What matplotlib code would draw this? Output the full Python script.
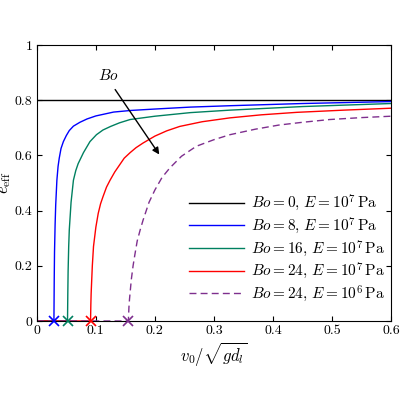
import matplotlib
matplotlib.use("Agg")
import matplotlib.pyplot as plt

plt.rcParams['font.family'] = ['cmr10', 'DejaVu Serif']
plt.rcParams['mathtext.fontset'] = 'cm'
plt.rcParams['axes.formatter.use_mathtext'] = True

bo0_x = [0.0, 0.6]
bo0_y = [0.8, 0.8]
bo8_x = [0.0, 0.029, 0.0295, 0.030, 0.031, 0.032, 0.034, 0.036, 0.038, 0.041, 0.045, 0.05, 0.055, 0.062, 0.073, 0.085, 0.10, 0.13, 0.16, 0.2, 0.26, 0.327, 0.45, 0.6]
bo8_y = [0.0, 0.0, 0.15, 0.25, 0.35, 0.42, 0.51, 0.56, 0.59, 0.625, 0.65, 0.672, 0.69, 0.706, 0.72, 0.732, 0.743, 0.757, 0.763, 0.768, 0.775, 0.78, 0.788, 0.795]
bo16_x = [0.0, 0.052, 0.0525, 0.053, 0.054, 0.055, 0.058, 0.062, 0.066, 0.07, 0.079, 0.09, 0.101, 0.112, 0.125, 0.14, 0.158, 0.2, 0.26, 0.327, 0.45, 0.6]
bo16_y = [0.0, 0.0, 0.1, 0.18, 0.27, 0.33, 0.43, 0.51, 0.545, 0.57, 0.61, 0.65, 0.675, 0.692, 0.705, 0.718, 0.73, 0.742, 0.755, 0.764, 0.777, 0.788]
bo24_x = [0.0, 0.091, 0.0915, 0.092, 0.094, 0.096, 0.1, 0.104, 0.108, 0.112, 0.118, 0.124, 0.132, 0.14, 0.148, 0.158, 0.168, 0.18, 0.2, 0.22, 0.242, 0.28, 0.327, 0.38, 0.44, 0.52, 0.6]
bo24_y = [0.0, 0.0, 0.06, 0.1, 0.2, 0.27, 0.34, 0.39, 0.425, 0.45, 0.485, 0.51, 0.54, 0.565, 0.59, 0.61, 0.628, 0.645, 0.67, 0.689, 0.705, 0.722, 0.736, 0.747, 0.756, 0.764, 0.771]
bo24e6_x = [0.0, 0.155, 0.156, 0.157, 0.16, 0.163, 0.166, 0.17, 0.175, 0.18, 0.19, 0.2, 0.212, 0.225, 0.245, 0.27, 0.3, 0.327, 0.37, 0.41, 0.45, 0.496, 0.55, 0.6]
bo24e6_y = [0.0, 0.0, 0.05, 0.08, 0.15, 0.2, 0.24, 0.29, 0.33, 0.366, 0.43, 0.475, 0.52, 0.554, 0.597, 0.633, 0.657, 0.675, 0.695, 0.71, 0.72, 0.73, 0.737, 0.742]
vc = [0.029, 0.052, 0.091, 0.155]
labels = [r'$Bo=0,\,E=10^7\,\mathrm{Pa}$', r'$Bo=8,\,E=10^7\,\mathrm{Pa}$',
          r'$Bo=16,\,E=10^7\,\mathrm{Pa}$', r'$Bo=24,\,E=10^7\,\mathrm{Pa}$',
          r'$Bo=24,\,E=10^6\,\mathrm{Pa}$']
colors = ['black', '#0000ff', '#008060', '#ff0000', '#7e2f8e']

fig = plt.figure(figsize=(4, 4), dpi=100)
ax = fig.add_axes([0.092, 0.1975, 0.886, 0.69])
ax.plot(bo0_x, bo0_y, color=colors[0], lw=1, label=labels[0])
ax.plot(bo8_x, bo8_y, color=colors[1], lw=1, label=labels[1])
ax.plot(bo16_x, bo16_y, color=colors[2], lw=1, label=labels[2])
ax.plot(bo24_x, bo24_y, color=colors[3], lw=1, label=labels[3])
ax.plot(bo24e6_x, bo24e6_y, color=colors[4], lw=1, ls=(0, (5, 3)), label=labels[4])
for v, c in zip(vc, colors[1:]):
    ax.plot([v], [0], marker='x', color=c, ms=7, mew=1.2, clip_on=False, zorder=5)

ax.annotate('', xy=(0.21, 0.595), xytext=(0.13, 0.847),
            arrowprops=dict(arrowstyle='-|>', color='black', lw=1, mutation_scale=10))
ax.text(0.122, 0.89, r'$Bo$', fontsize=11, ha='center', va='center')

ax.set_xlim(0, 0.6)
ax.set_ylim(0, 1)
ax.set_xticks([0, 0.1, 0.2, 0.3, 0.4, 0.5, 0.6])
ax.set_xticklabels(['0', '0.1', '0.2', '0.3', '0.4', '0.5', '0.6'])
ax.set_yticks([0, 0.2, 0.4, 0.6, 0.8, 1])
ax.set_yticklabels(['0', '0.2', '0.4', '0.6', '0.8', '1'])
ax.tick_params(direction='in', top=True, right=True, labelsize=10, pad=3)
ax.set_xlabel(r'$v_0/\sqrt{gd_l}$', fontsize=12, labelpad=2)
ax.set_ylabel(r'$e_{\mathrm{eff}}$', fontsize=12, labelpad=1)
ax.legend(loc='lower right', frameon=False, fontsize=11, handlelength=3.6,
          borderaxespad=0.0, labelspacing=0.15, handletextpad=0.5,
          bbox_to_anchor=(1.0, 0.04))
fig.savefig('out.png', dpi=100)
